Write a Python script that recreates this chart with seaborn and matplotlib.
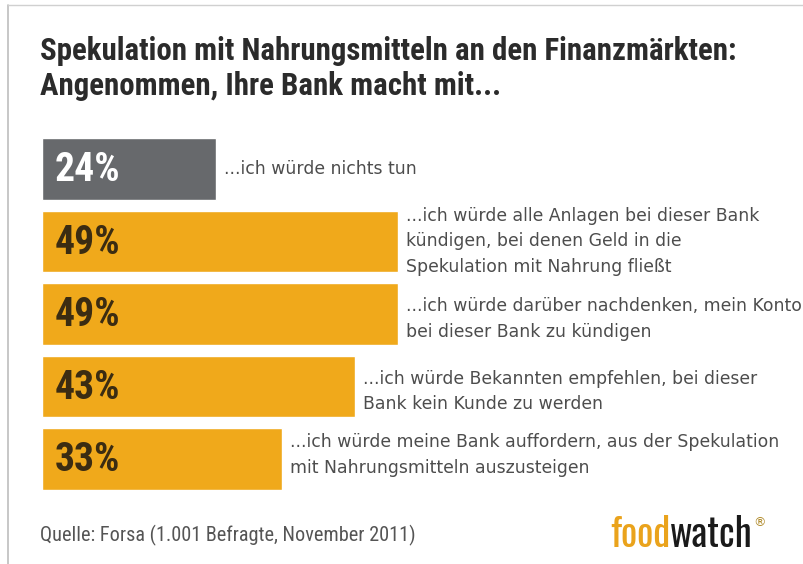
import matplotlib
matplotlib.use("Agg")
import matplotlib.pyplot as plt
import seaborn as sns
import pandas as pd
from matplotlib.lines import Line2D

# ---- data ----
answers = [
    "...ich würde nichts tun",
    "...ich würde alle Anlagen bei dieser Bank\nkündigen, bei denen Geld in die\nSpekulation mit Nahrung fließt",
    "...ich würde darüber nachdenken, mein Konto\nbei dieser Bank zu kündigen",
    "...ich würde Bekannten empfehlen, bei dieser\nBank kein Kunde zu werden",
    "...ich würde meine Bank auffordern, aus der Spekulation\nmit Nahrungsmitteln auszusteigen",
]
values = [24, 49, 49, 43, 33]
bar_colors = ["#67696c", "#f0a91b", "#f0a91b", "#f0a91b", "#f0a91b"]
pct_colors = ["#ffffff", "#3b2c12", "#3b2c12", "#3b2c12", "#3b2c12"]
title_lines = ["Spekulation mit Nahrungsmitteln an den Finanzmärkten:",
               "Angenommen, Ihre Bank macht mit..."]
source = "Quelle: Forsa (1.001 Befragte, November 2011)"

df = pd.DataFrame({"answer": answers, "value": values})

sns.set_theme(style="white")
plt.rcParams["font.family"] = ["DejaVu Sans"]

W, H = 804, 564
fig = plt.figure(figsize=(W / 100, H / 100), dpi=100)
fig.patch.set_facecolor("white")

# frame lines (left and top)
fig.add_artist(Line2D([8 / W, 8 / W], [0, 1 - 5 / H], transform=fig.transFigure,
                      color="#bdbdbd", lw=1.2))
fig.add_artist(Line2D([8 / W, 1], [1 - 5 / H, 1 - 5 / H], transform=fig.transFigure,
                      color="#d0d0d0", lw=1.0))

# axes placed in pixel coordinates
left_px, width_px = 42, 727
top_px, bot_px = 138, 490
ax = fig.add_axes([left_px / W, 1 - bot_px / H, width_px / W, (bot_px - top_px) / H])

bw = 0.855
sns.barplot(data=df, x="value", y="answer", hue="answer", palette=bar_colors,
            orient="h", width=bw, legend=False, ax=ax, saturation=1)
ax.set_xlim(0, 100)
ax.set_ylim(len(values) - 1 + bw / 2, -bw / 2)
ax.axis("off")

label_dy = [0, 0, 0.07, 0.07, -0.06]
for i, (v, lab) in enumerate(zip(values, answers)):
    ax.text(1.7, i + 0.02, f"{v}%", ha="left", va="center", color=pct_colors[i],
            fontsize=28.5, fontweight="bold", family="Roboto Condensed")
    ax.text(v + 1.1, i + label_dy[i], lab, ha="left", va="center", color="#4d4d4d",
            fontsize=12.4, linespacing=1.55, family="DejaVu Sans")

# title
fig.text(40 / W, 1 - 51 / H, title_lines[0], ha="left", va="center",
         fontsize=22.2, fontweight="bold", color="#2b2b2b", family="Roboto Condensed")
fig.text(40 / W, 1 - 86 / H, title_lines[1], ha="left", va="center",
         fontsize=22.2, fontweight="bold", color="#2b2b2b", family="Roboto Condensed")

# source
fig.text(40 / W, 1 - 535 / H, source, ha="left", va="center",
         fontsize=14.6, color="#555555", family="Roboto Condensed")

# logo
t1 = fig.text(610 / W, 1 - 547 / H, "food", ha="left", va="baseline",
              fontsize=27.5, fontweight="bold", color="#eaa31c", family="Oswald")
t2 = fig.text(0, 0, "watch", ha="left", va="baseline",
              fontsize=27.5, fontweight="bold", color="#1a1a1a", family="Oswald")
fig.canvas.draw()
bb = t1.get_window_extent()
t2.set_position(((bb.x1) / W, 1 - 547 / H))
fig.canvas.draw()
bb2 = t2.get_window_extent()
fig.text((bb2.x1 + 1) / W, 1 - 523 / H, "®", ha="left", va="center",
         fontsize=9, color="#b08a2a")

fig.savefig("out.png", dpi=100, facecolor="white")
